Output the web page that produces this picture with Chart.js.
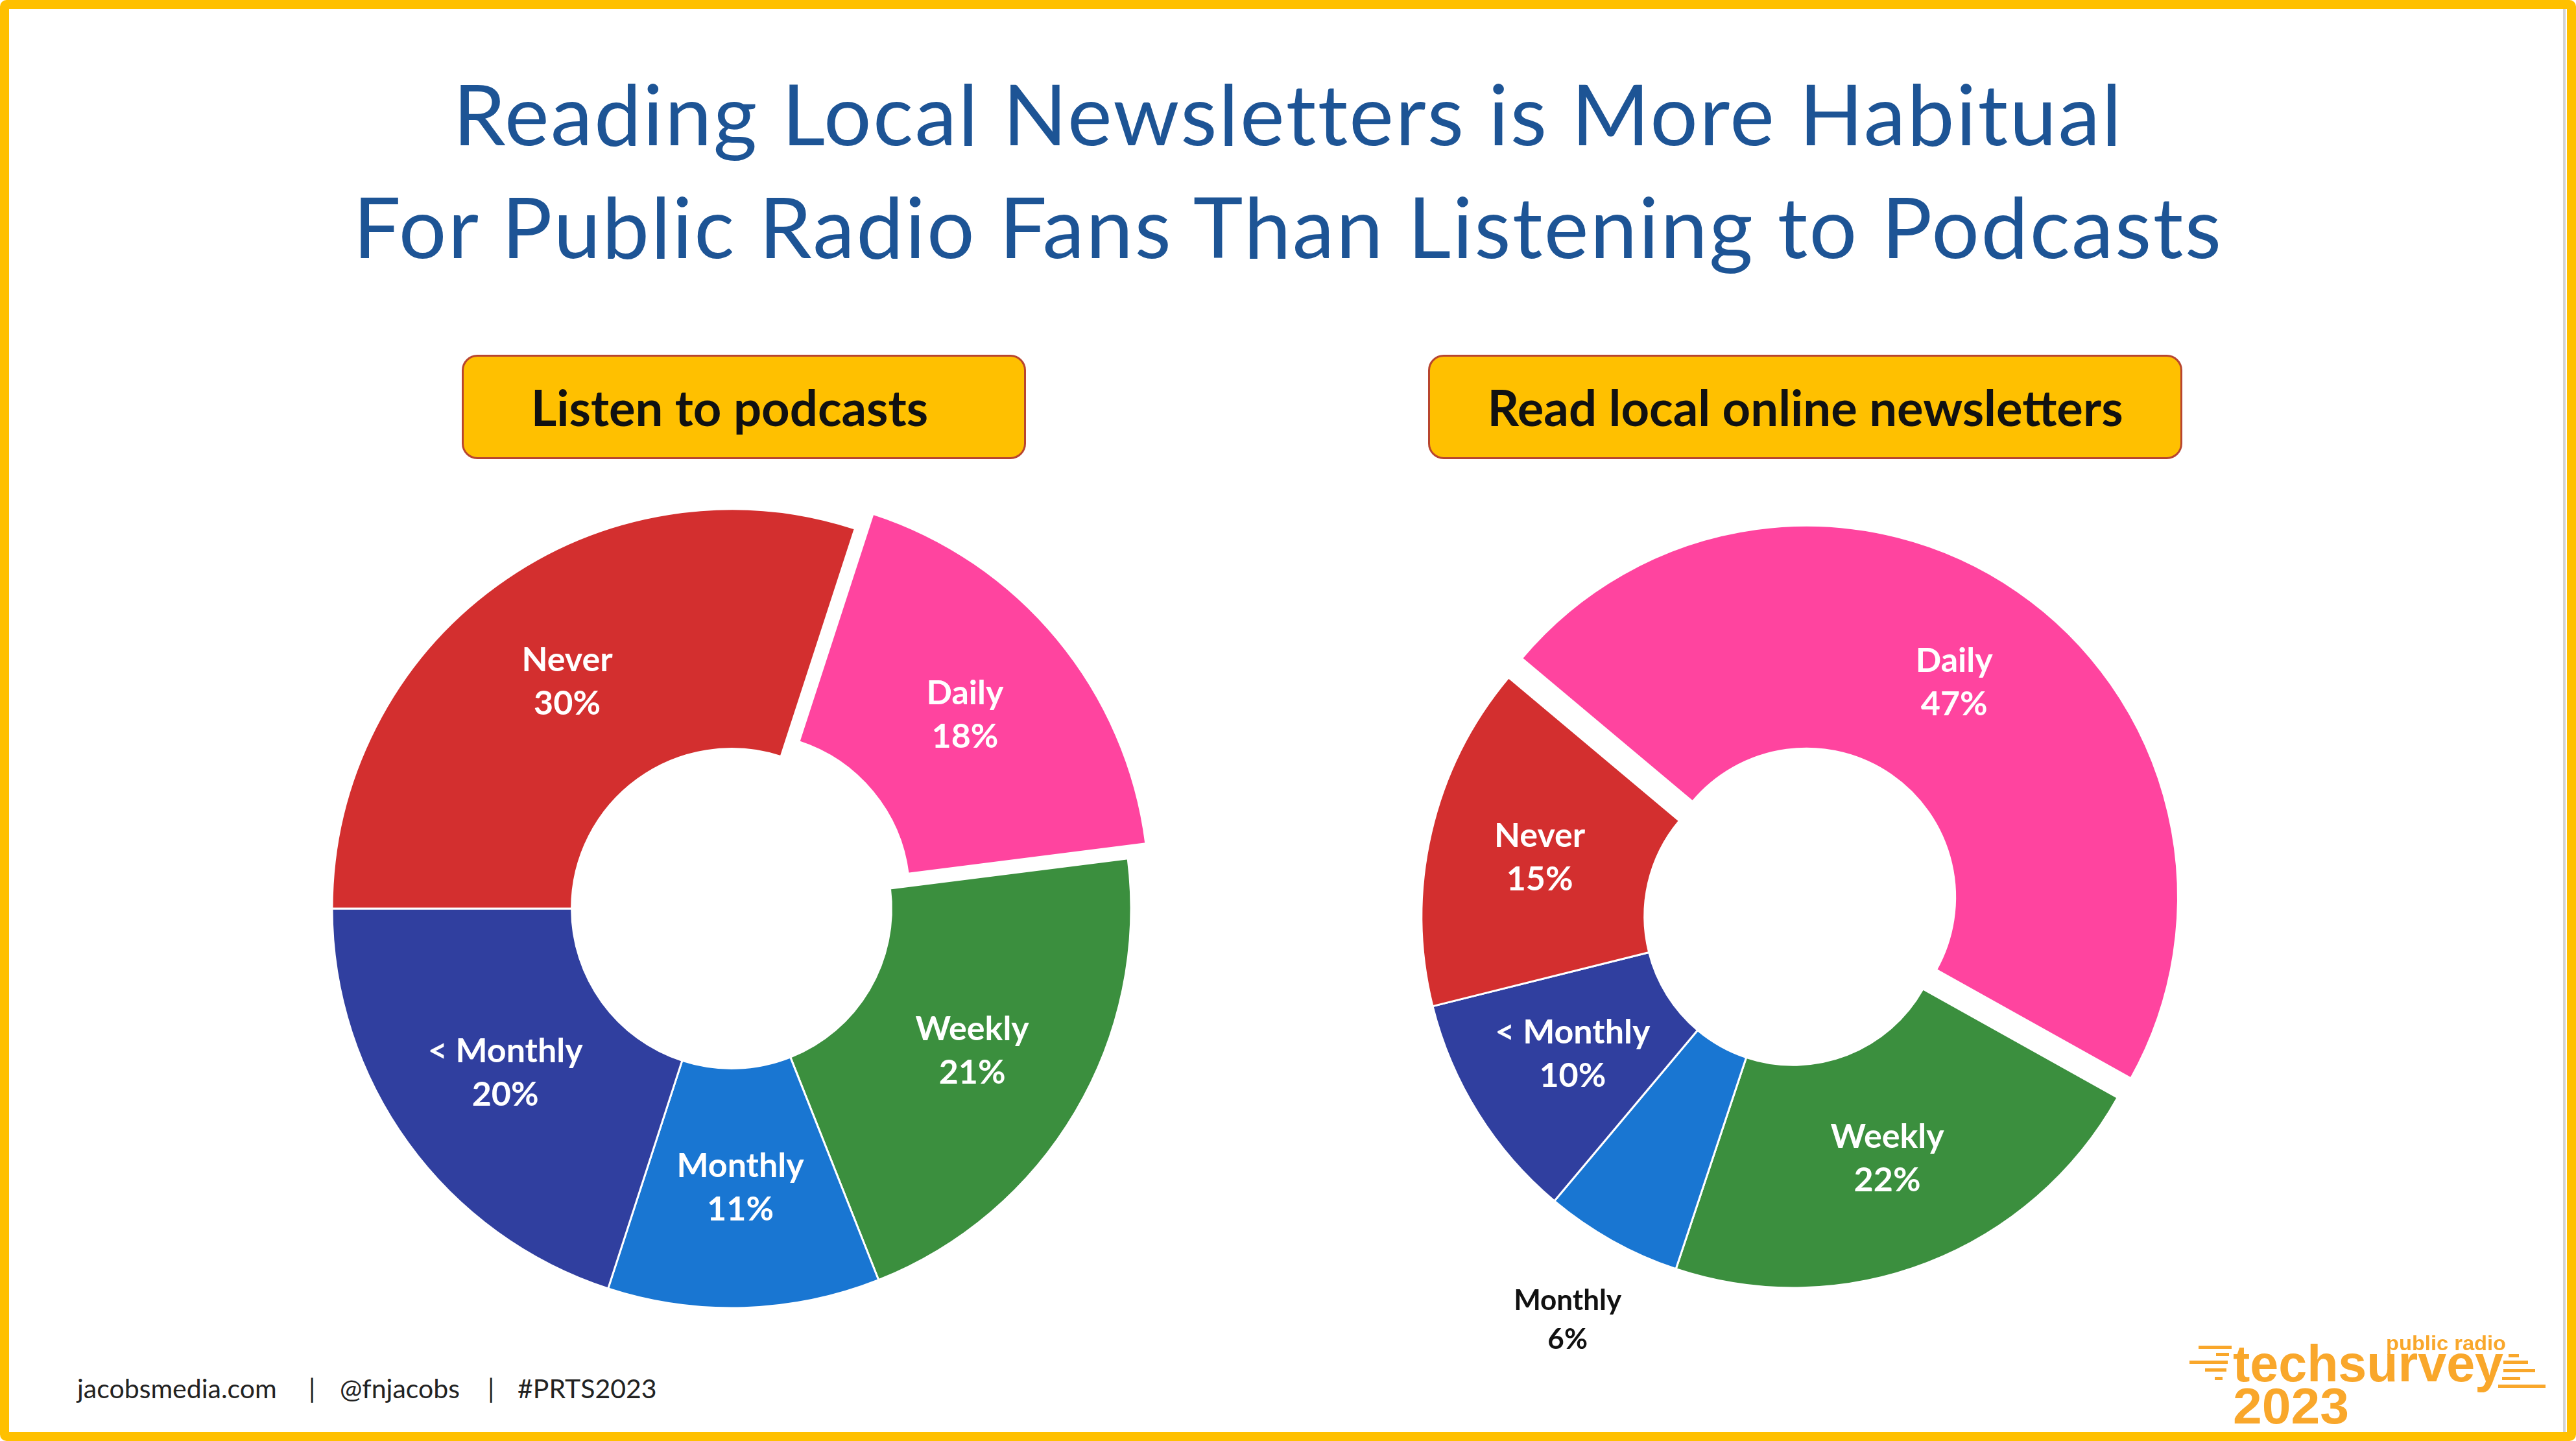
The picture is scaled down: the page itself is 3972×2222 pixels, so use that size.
<!DOCTYPE html>
<html>
<head>
<meta charset="utf-8">
<title>Reading Local Newsletters is More Habitual</title>
<script src="https://cdn.jsdelivr.net/npm/chart.js@4.4.0/dist/chart.umd.min.js"></script>
<style>
  html, body { margin: 0; padding: 0; background: #fff; }
  #slide { position: relative; width: 3972px; height: 2222px; overflow: hidden; background: #fff; font-family: Lato, 'Open Sans', sans-serif; }
  #frame { position: absolute; left: 0; top: 0; width: 3972px; height: 2222px; box-sizing: border-box; border: 14px solid #FFC000; border-radius: 10px; pointer-events: none; }
  #shade { position: absolute; left: 3952px; top: 14px; width: 4px; height: 2194px; background: #d4d4d4; }
  .title { position: absolute; left: 0; width: 3972px; text-align: center; color: #1D5495; font-size: 130px; line-height: 130px; letter-spacing: 2.4px; white-space: nowrap; }
  .pill { position: absolute; top: 547px; height: 161px; box-sizing: border-box; background: #FFC000; border: 3px solid #B8452F; border-radius: 24px;
          display: flex; align-items: center; justify-content: center; font-weight: 700; font-size: 76px; color: #111; white-space: nowrap; }
  canvas { position: absolute; }
  .foot { position: absolute; top: 2120px; font-size: 41px; line-height: 41px; color: #222; white-space: nowrap; }
  #logo { position: absolute; left: 3360px; top: 2040px; }
</style>
</head>
<body>
<div id="slide">
  <div class="title" style="top:109px">Reading Local Newsletters is More Habitual</div>
  <div class="title" style="top:283px">For Public Radio Fans Than Listening to Podcasts</div>

  <div class="pill" style="left:712px; width:870px; padding-right:44px;">Listen to podcasts</div>
  <div class="pill" style="left:2202px; width:1163px;">Read local online newsletters</div>

  <canvas id="podcastChart" width="1400" height="1400" style="left:428px; top:701px;"></canvas>
  <canvas id="newsletterChart" width="1500" height="1500" style="left:2015px; top:663px;"></canvas>

  <span class="foot" style="left:119px">jacobsmedia.com</span>
  <span class="foot" style="left:476px">|</span>
  <span class="foot" style="left:524px">@fnjacobs</span>
  <span class="foot" style="left:752px">|</span>
  <span class="foot" style="left:798px">#PRTS2023</span>

  <svg id="logo" width="580" height="170" viewBox="0 0 580 170">
    <g fill="#F9A72B">
      <rect x="30" y="35" width="51" height="5"/>
      <rect x="57" y="46" width="20" height="5"/>
      <rect x="16" y="58" width="59" height="5"/>
      <rect x="40" y="70" width="33" height="5"/>
      <rect x="55" y="83" width="12" height="5"/>
      <rect x="508" y="48" width="16" height="5"/>
      <rect x="500" y="58" width="38" height="5"/>
      <rect x="500" y="71" width="49" height="5"/>
      <rect x="498" y="83" width="28" height="5"/>
      <rect x="492" y="95" width="73" height="5"/>
    </g>
    <g fill="#F9A72B" font-family="'Liberation Sans', Arial, sans-serif" font-weight="700">
      <text x="319" y="42" font-size="32" textLength="185" lengthAdjust="spacingAndGlyphs">public radio</text>
      <text x="83" y="90" font-size="80" textLength="417" lengthAdjust="spacingAndGlyphs">techsurvey</text>
      <text x="83" y="155" font-size="78" textLength="179" lengthAdjust="spacingAndGlyphs">2023</text>
    </g>
  </svg>

  <div id="shade"></div>
  <div id="frame"></div>
</div>

<script>
const categories = ['Daily', 'Weekly', 'Monthly', '< Monthly', 'Never'];
const podcastValues = [18, 21, 11, 20, 30];
const newsletterValues = [47, 22, 6, 10, 15];
const explodedCategory = 'Daily';

const sliceColors = ['#FF449F', '#3B8F3E', '#1976D2', '#303F9F', '#D32F2F'];

// pulls the exploded slice outward, like the pie "explosion" in the source chart
const explodeSlice = {
    id: 'explodeSlice',
    afterDatasetUpdate(chart, args) {
        const meta = args.meta;
        meta.data.forEach((arc, i) => {
            if (chart.data.labels[i] !== explodedCategory) return;
            const mid = (arc.startAngle + arc.endAngle) / 2;
            const dist = chart.options.plugins.explodeSlice.distance;
            arc.x += Math.cos(mid) * dist;
            arc.y += Math.sin(mid) * dist;
        });
    }
};

// two-line "Name / nn%" labels, small slices get theirs outside in black
const sliceLabels = {
    id: 'sliceLabels',
    afterDatasetsDraw(chart) {
        const ctx = chart.ctx;
        const meta = chart.getDatasetMeta(0);
        const values = chart.data.datasets[0].data;
        ctx.save();
        ctx.textAlign = 'center';
        ctx.textBaseline = 'middle';
        meta.data.forEach((arc, i) => {
            const mid = (arc.startAngle + arc.endAngle) / 2;
            const outside = values[i] < 8;
            const r = outside ? arc.outerRadius + 140 : (arc.innerRadius + arc.outerRadius) / 2;
            const x = arc.x + Math.cos(mid) * r;
            const y = arc.y + Math.sin(mid) * r;
            const lh = outside ? 60 : 67;
            ctx.fillStyle = outside ? '#111' : '#fff';
            ctx.font = (outside ? '700 44px' : '700 52px') + " Lato, 'Open Sans', sans-serif";
            ctx.fillText(chart.data.labels[i], x, y - lh / 2);
            ctx.fillText(values[i] + '%', x, y + lh / 2);
        });
        ctx.restore();
    }
};

function makeDonut(canvasId, values, rotation, radius) {
    return new Chart(document.getElementById(canvasId), {
        type: 'doughnut',
        data: {
            labels: categories,
            datasets: [{
                data: values,
                backgroundColor: sliceColors,
                borderColor: '#ffffff',
                borderWidth: 3
            }]
        },
        options: {
            responsive: false,
            animation: false,
            devicePixelRatio: 1,
            rotation: rotation,
            radius: radius,
            cutout: '40%',
            events: [],
            plugins: {
                legend: { display: false },
                tooltip: { enabled: false },
                explodeSlice: { distance: 36 }
            }
        },
        plugins: [explodeSlice, sliceLabels]
    });
}

makeDonut('podcastChart', podcastValues, 18, 616);
makeDonut('newsletterChart', newsletterValues, 310, 573);
</script>
</body>
</html>
